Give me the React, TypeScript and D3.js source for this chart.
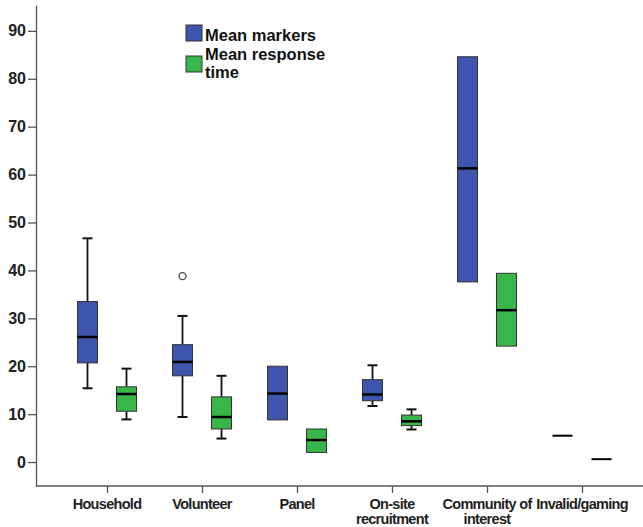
import React, { useEffect, useRef } from 'react';
import * as d3 from 'd3';

// groups on the x axis (second line after "\n")
const categories = ['Household', 'Volunteer', 'Panel', 'On-site\nrecruitment', 'Community of\ninterest', 'Invalid/gaming'];
const seriesNames = ['Mean markers', 'Mean response\ntime'];
const seriesColors = ['#3d55ad', '#38b64a'];

// [min, q1, median, q3, max] per category
const markers = [
  [15.4, 20.7, 26.1, 33.5, 46.7],
  [9.4, 18.0, 20.9, 24.5, 30.5],
  [8.8, 8.8, 14.3, 20.0, 20.0],
  [11.7, 12.8, 14.1, 17.2, 20.2],
  [37.6, 37.6, 61.3, 84.6, 84.6],
  [5.5, 5.5, 5.5, 5.5, 5.5],
];
const responseTime = [
  [8.9, 10.6, 14.2, 15.7, 19.5],
  [4.9, 6.9, 9.4, 13.6, 18.0],
  [2.0, 2.0, 4.6, 6.9, 6.9],
  [6.8, 7.6, 8.5, 9.8, 11.0],
  [24.2, 24.2, 31.7, 39.4, 39.4],
  [0.6, 0.6, 0.6, 0.6, 0.6],
];
// outliers: [series index, category index, value]
const outliers = [[0, 1, 38.8]];
const yTicks = [0, 10, 20, 30, 40, 50, 60, 70, 80, 90];

export default function App() {
  const ref = useRef<SVGSVGElement>(null);

  useEffect(() => {
    document.body.style.margin = '0';
    const svg = d3.select(ref.current);
    svg.selectAll('*').remove();

    const font = '"Liberation Sans", Arial, sans-serif';
    const y = d3.scaleLinear().domain([-5, 95.4]).range([486, 5]);
    const x = d3.scalePoint().domain(categories).range([107, 582]);
    const boxW = 20;
    const offset = [-19.5, 19.5];

    // y axis
    const yAxis = svg.append('g')
      .attr('transform', 'translate(36,0)')
      .call(d3.axisLeft(y).tickValues(yTicks).tickSize(8).tickPadding(2).tickSizeOuter(0));
    yAxis.select('.domain').attr('stroke', '#555').attr('stroke-width', 1.3);
    yAxis.selectAll('.tick line').attr('stroke', '#555').attr('stroke-width', 1.3);
    yAxis.selectAll('.tick text')
      .attr('font-family', font).attr('font-weight', 'bold').attr('font-size', 16)
      .attr('fill', '#222');

    // x axis
    const xAxis = svg.append('g')
      .attr('transform', 'translate(0,486)')
      .call(d3.axisBottom(x).tickSize(7).tickFormat(() => '').tickSizeOuter(0));
    xAxis.select('.domain').attr('d', 'M36,0H643').attr('stroke', '#555').attr('stroke-width', 1.3);
    xAxis.selectAll('.tick line').attr('stroke', '#555').attr('stroke-width', 1.3);

    categories.forEach(c => {
      const lines = c.split('\n');
      const t = svg.append('text')
        .attr('x', x(c)!)
        .attr('y', 509)
        .attr('text-anchor', 'middle')
        .attr('font-family', font).attr('font-weight', 'bold').attr('font-size', 14.5)
        .attr('letter-spacing', -0.7)
        .attr('fill', '#222');
      lines.forEach((l, i) => t.append('tspan').attr('x', x(c)!).attr('dy', i === 0 ? 0 : 14.5).text(l));
    });

    // boxes
    [markers, responseTime].forEach((series, si) => {
      const g = svg.append('g');
      series.forEach((d, ci) => {
        const cx = x(categories[ci])! + offset[si];
        const [mn, q1, med, q3, mx] = d;
        if (mx > q3) {
          g.append('line').attr('x1', cx).attr('x2', cx).attr('y1', y(q3)).attr('y2', y(mx))
            .attr('stroke', '#111').attr('stroke-width', 1.8);
          g.append('line').attr('x1', cx - 5).attr('x2', cx + 5).attr('y1', y(mx)).attr('y2', y(mx))
            .attr('stroke', '#111').attr('stroke-width', 2);
        }
        if (mn < q1) {
          g.append('line').attr('x1', cx).attr('x2', cx).attr('y1', y(q1)).attr('y2', y(mn))
            .attr('stroke', '#111').attr('stroke-width', 1.8);
          g.append('line').attr('x1', cx - 5).attr('x2', cx + 5).attr('y1', y(mn)).attr('y2', y(mn))
            .attr('stroke', '#111').attr('stroke-width', 2);
        }
        if (q3 > q1) {
          g.append('rect')
            .attr('x', cx - boxW / 2).attr('y', y(q3))
            .attr('width', boxW).attr('height', y(q1) - y(q3))
            .attr('fill', seriesColors[si]).attr('stroke', '#333').attr('stroke-width', 1);
        }
        g.append('line').attr('x1', cx - boxW / 2).attr('x2', cx + boxW / 2)
          .attr('y1', y(med)).attr('y2', y(med))
          .attr('stroke', '#000').attr('stroke-width', q3 > q1 ? 2.5 : 2);
      });
    });

    outliers.forEach(([si, ci, v]) => {
      svg.append('circle')
        .attr('cx', x(categories[ci])! + offset[si]).attr('cy', y(v)).attr('r', 3.5)
        .attr('fill', '#fff').attr('stroke', '#444').attr('stroke-width', 1.3);
    });

    // legend
    const legend = svg.append('g');
    seriesNames.forEach((name, i) => {
      const top = i === 0 ? 25 : 56;
      legend.append('rect').attr('x', 186).attr('y', top).attr('width', 16).attr('height', 16)
        .attr('fill', seriesColors[i]).attr('stroke', '#333').attr('stroke-width', 1);
      const t = legend.append('text')
        .attr('x', 205).attr('y', i === 0 ? 41 : 60)
        .attr('font-family', font).attr('font-weight', 'bold').attr('font-size', 16.5)
        .attr('fill', '#111');
      name.split('\n').forEach((l, j) => t.append('tspan').attr('x', 205).attr('dy', j === 0 ? 0 : 18).text(l));
    });
  }, []);

  return (
    <div>
      <svg ref={ref} width={643} height={527} style={{ display: 'block', background: '#fff' }} />
    </div>
  );
}
